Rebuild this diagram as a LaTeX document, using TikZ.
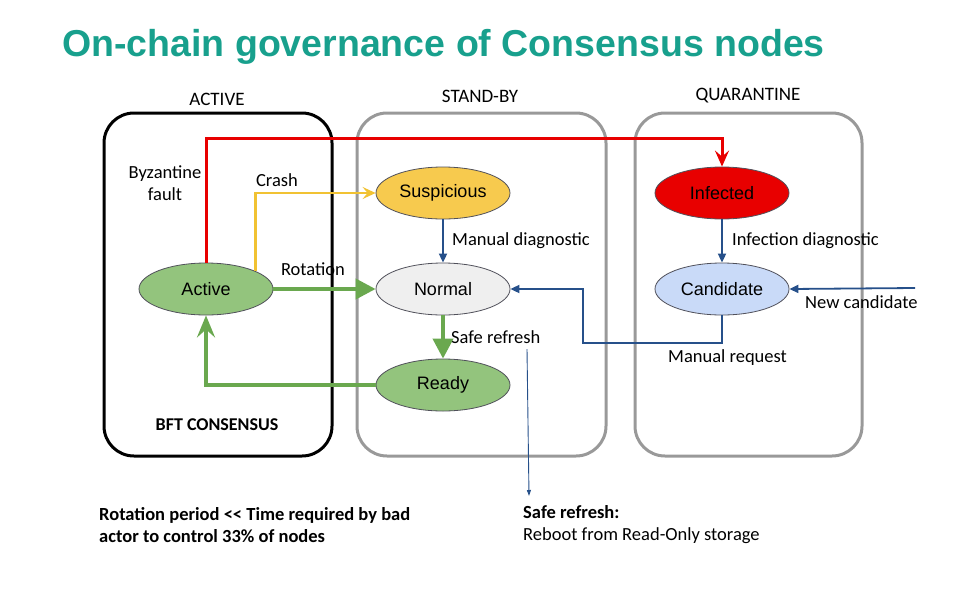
\documentclass[tikz,border=0pt]{standalone}
\usepackage{fontspec}
\setmainfont{Carlito}
\newfontfamily\arialf{Liberation Sans}
\usetikzlibrary{arrows.meta,shapes.geometric}
\definecolor{titleC}{RGB}{24,160,141}
\definecolor{redC}{RGB}{232,0,0}
\definecolor{yelLine}{RGB}{241,194,50}
\definecolor{yelFill}{RGB}{247,202,78}
\definecolor{grnFill}{RGB}{147,196,125}
\definecolor{grnLine}{RGB}{106,168,79}
\definecolor{bluC}{RGB}{38,80,138}
\definecolor{candFill}{RGB}{201,218,248}
\definecolor{normFill}{RGB}{239,239,239}
\definecolor{grayBox}{RGB}{153,153,153}
\definecolor{edgeC}{RGB}{80,80,90}
\begin{document}
\begin{tikzpicture}[x=1pt,y=-1pt,
  groupbox/.style={draw, line width=3pt, rounded corners=30pt, minimum width=#1, minimum height=343pt, inner sep=0pt},
  hdr/.style={font=\fontsize{19}{22}\selectfont},
  lbl/.style={font=\fontsize{18.5}{22}\selectfont, inner sep=0pt},
  state/.style={ellipse, draw=edgeC, line width=0.8pt, minimum width=134pt, minimum height=52pt, inner sep=0pt, font=\arialf\fontsize{18}{20}\selectfont},
  redarrow/.style={draw=redC, line width=3pt, -{Stealth[length=16pt,width=14pt,inset=6pt]}},
  yelarrow/.style={draw=yelLine, line width=2.5pt, -{Stealth[length=13pt,width=12pt,inset=5pt]}},
  grnbig/.style={draw=grnLine, line width=4pt, -{Triangle[length=20pt,width=20pt]}},
  grnback/.style={draw=grnLine, line width=3.5pt, -{Stealth[length=22pt,width=18pt,inset=8pt]}},
  bluarrow/.style={draw=bluC, line width=1.8pt, -{Triangle[length=9pt,width=8pt]}},
  thinarrow/.style={draw=bluC, line width=0.9pt, -{Triangle[length=6pt,width=4pt]}}
]
\useasboundingbox (0,0) rectangle (960,600);

% title
\node[anchor=base west, inner sep=0pt, text=titleC, font=\arialf\bfseries\fontsize{37.5}{40}\selectfont] (title) at (62,56) {On-chain governance of Consensus nodes};

% group boxes
\node[groupbox=228pt, draw=black] (gActive) at (218,284.5) {};
\node[groupbox=249pt, draw=grayBox] (gStand) at (481.5,284.5) {};
\node[groupbox=227pt, draw=grayBox] (gQuar) at (748.5,284.5) {};

\node[hdr] (hActive) at (217,99) {ACTIVE};
\node[hdr] (hStand) at (480,96) {STAND-BY};
\node[hdr] (hQuar) at (748,96) {QUARANTINE};

% states
\node[state, fill=grnFill] (active) at (206,289) {Active};
\node[state, fill=yelFill] (susp) at (443,193) {Suspicious};
\node[state, fill=normFill] (normal) at (443,289) {Normal};
\node[state, fill=grnFill] (ready) at (443,385) {Ready};
\node[state, fill=redC] (infected) at (722,193) {Infected};
\node[state, fill=candFill] (cand) at (722,289) {Candidate};

% labels
\node[lbl, align=center] (lByz) at (165,183) {Byzantine\\fault};
\node[lbl] (lCrash) at (277,180) {Crash};
\node[lbl] (lRot) at (313,269) {Rotation};
\node[lbl, anchor=west] (lMan) at (452,241) {Manual diagnostic};
\node[lbl, anchor=west] (lSafe) at (451,337) {Safe refresh};
\node[lbl, anchor=west] (lInf) at (732,241) {Infection diagnostic};
\node[lbl, anchor=west] (lNew) at (805,302) {New candidate};
\node[lbl, anchor=west] (lReq) at (668,358) {Manual request};
\node[lbl, font=\bfseries\fontsize{18}{22}\selectfont] (lBFT) at (217,425) {BFT CONSENSUS};

% bottom notes
\node[anchor=west, align=left, inner sep=0pt, font=\bfseries\fontsize{18.5}{22}\selectfont] (noteL) at (99,525) {Rotation period <{}< Time required by bad\\actor to control 33\% of nodes};
\node[anchor=west, align=left, inner sep=0pt, font=\fontsize{18.5}{22}\selectfont] (noteR) at (523,525) {\textbf{Safe refresh:}\\Reboot from Read-Only storage};

% connectors
\coordinate (redTop) at (206,138);
\draw[redarrow] (active.north) -- (redTop) -| (infected.north);
\draw[yelarrow] (active.20) |- (susp.west);
\draw[grnbig] (active.east) -- (normal.west);
\draw[grnbig] (normal.south) -- (ready.north);
\draw[grnback] (ready.west) -| (active.south);
\draw[bluarrow] (susp.south) -- (normal.north);
\draw[bluarrow] (infected.south) -- (cand.north);
\coordinate (mr) at (583,343);
\draw[bluarrow] (cand.south) |- (mr) |- (normal.east);
\coordinate (nc) at (915,288);
\draw[bluarrow] (nc) -- (cand.east);
\coordinate (sr1) at (527,349);
\coordinate (sr2) at (529,496);
\draw[thinarrow] (sr1) -- (sr2);
\end{tikzpicture}
\end{document}
